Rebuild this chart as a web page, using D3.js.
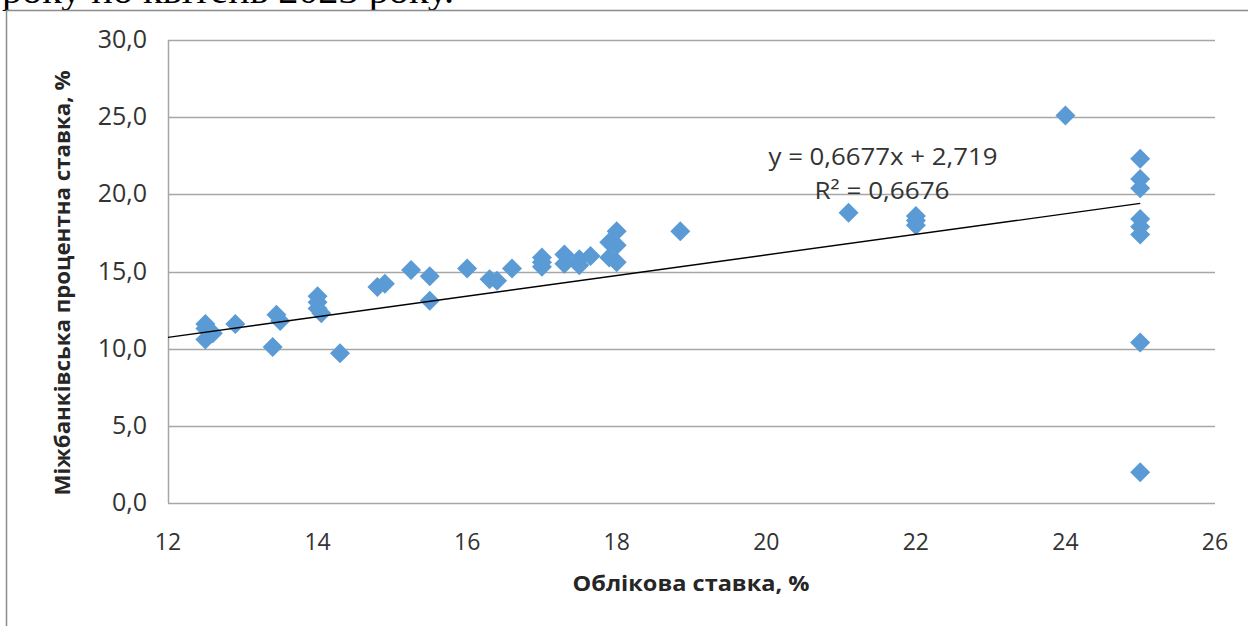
<!DOCTYPE html>
<html>
<head>
<meta charset="utf-8">
<script src="https://cdn.jsdelivr.net/npm/d3@7"></script>
<style>
  body { margin: 0; background: #fff; }
  svg { display: block; }
</style>
</head>
<body>
<div id="chart-area"></div>
<script>
//============================DATA============================
// discount rate (x) and interbank rate (y), %
var discountRate = [12.5, 12.5, 12.55, 12.6, 12.5, 12.9, 13.45, 13.5, 13.4,
    14.0, 14.0, 14.0, 14.05, 14.3, 14.8, 14.9, 15.25, 15.5, 15.5,
    16.0, 16.3, 16.4, 16.6, 17.0, 17.0, 17.0, 17.3, 17.3, 17.5, 17.5, 17.65,
    17.9, 18.0, 18.0, 17.9, 18.0, 18.85, 21.1, 22.0, 22.0, 22.0, 24.0,
    25.0, 25.0, 25.0, 25.0, 25.0, 25.0, 25.0, 25.0];
var interbankRate = [11.6, 10.6, 11.2, 11.0, 11.3, 11.6, 12.2, 11.8, 10.1,
    13.4, 13.0, 12.6, 12.3, 9.7, 14.0, 14.2, 15.1, 14.7, 13.1,
    15.2, 14.5, 14.4, 15.2, 15.9, 15.6, 15.3, 16.1, 15.5, 15.4, 15.8, 16.0,
    16.9, 17.6, 16.7, 15.9, 15.6, 17.6, 18.8, 18.6, 18.3, 18.0, 25.1,
    22.3, 21.0, 20.4, 18.4, 17.9, 17.4, 10.4, 2.0];

var xTicks = [12, 14, 16, 18, 20, 22, 24, 26];
var yTicks = [0, 5, 10, 15, 20, 25, 30];

// linear trend shown on the chart
var trendSlope = 0.6677;
var trendIntercept = 2.719;
var trendRange = [12, 25];
var trendLabel = "y = 0,6677x + 2,719";
var r2Label = "R\u00B2 = 0,6676";

var xTitle = "Облікова ставка, %";
var yTitle = "Міжбанківська процентна ставка, %";
var headText = "року по квітень 2023 року.";

//============================LAYOUT============================
var W = 1248, H = 626;
var plot = { left: 168, right: 1215, top: 40, bottom: 503 };
var font = "'Open Sans', 'Liberation Sans', sans-serif";

var svg = d3.select("#chart-area")
    .append("svg")
    .attr("width", W)
    .attr("height", H);

svg.append("rect").attr("width", W).attr("height", H).attr("fill", "#fff");

// piece of the document text above the chart, cut by the page edge
svg.append("text")
    .attr("x", 2)
    .attr("y", 3)
    .attr("font-family", "'Liberation Serif', 'Times New Roman', serif")
    .attr("font-size", "38px")
    .attr("textLength", 452)
    .attr("lengthAdjust", "spacingAndGlyphs")
    .text(headText);

// chart frame
svg.append("path")
    .attr("d", "M6.5," + H + "V10.5H" + W)
    .attr("fill", "none")
    .attr("stroke", "#8c8c8c")
    .attr("stroke-width", 1.5);

var x = d3.scaleLinear().domain([12, 26]).range([plot.left, plot.right]);
var y = d3.scaleLinear().domain([0, 30]).range([plot.bottom, plot.top]);

var fmt = function(v) { return d3.format(".1f")(v).replace(".", ","); };

// gridlines
svg.append("g")
    .selectAll("line")
    .data(yTicks.filter(function(d) { return d > 0; }))
    .enter().append("line")
    .attr("x1", plot.left).attr("x2", plot.right)
    .attr("y1", function(d) { return Math.round(y(d)) + 0.5; })
    .attr("y2", function(d) { return Math.round(y(d)) + 0.5; })
    .attr("stroke", "#a6a6a6")
    .attr("stroke-width", 1.5);

// axes lines
svg.append("line")
    .attr("x1", plot.left + 0.5).attr("x2", plot.left + 0.5)
    .attr("y1", plot.top).attr("y2", plot.bottom)
    .attr("stroke", "#a6a6a6").attr("stroke-width", 1.5);
svg.append("line")
    .attr("x1", plot.left).attr("x2", plot.right)
    .attr("y1", plot.bottom + 0.5).attr("y2", plot.bottom + 0.5)
    .attr("stroke", "#a6a6a6").attr("stroke-width", 1.5);

// y tick labels
svg.append("g")
    .selectAll("text")
    .data(yTicks)
    .enter().append("text")
    .attr("x", 147)
    .attr("y", function(d) { return y(d) + 8; })
    .attr("text-anchor", "end")
    .attr("font-family", font)
    .attr("font-size", "25px")
    .attr("fill", "#333")
    .text(function(d) { return fmt(d); });

// x tick labels
svg.append("g")
    .selectAll("text")
    .data(xTicks)
    .enter().append("text")
    .attr("x", function(d) { return x(d); })
    .attr("y", 550)
    .attr("text-anchor", "middle")
    .attr("font-family", font)
    .attr("font-size", "23px")
    .attr("fill", "#333")
    .text(function(d) { return d; });

// axis titles
svg.append("text")
    .attr("x", 691)
    .attr("y", 591)
    .attr("text-anchor", "middle")
    .attr("font-family", font)
    .attr("font-weight", "bold")
    .attr("font-size", "21px")
    .attr("fill", "#262626")
    .attr("textLength", 237)
    .attr("lengthAdjust", "spacingAndGlyphs")
    .text(xTitle);

svg.append("text")
    .attr("transform", "translate(70,283) rotate(-90)")
    .attr("text-anchor", "middle")
    .attr("font-family", font)
    .attr("font-weight", "bold")
    .attr("font-size", "21px")
    .attr("fill", "#262626")
    .attr("textLength", 425)
    .attr("lengthAdjust", "spacingAndGlyphs")
    .text(yTitle);

// points
var points = discountRate.map(function(d, i) { return { x: d, y: interbankRate[i] }; });
var diamond = d3.symbol().type(d3.symbolSquare).size(200);

svg.append("g")
    .selectAll("path")
    .data(points)
    .enter().append("path")
    .attr("d", diamond)
    .attr("transform", function(d) { return "translate(" + x(d.x) + "," + y(d.y) + ") rotate(45)"; })
    .attr("fill", "#5b9bd5");

// trendline
var line = d3.line()
    .x(function(d) { return x(d); })
    .y(function(d) { return y(trendSlope * d + trendIntercept); });

svg.append("path")
    .datum(trendRange)
    .attr("d", line)
    .attr("fill", "none")
    .attr("stroke", "#000")
    .attr("stroke-width", 1.3);

// trend equation
svg.append("text")
    .attr("x", 883)
    .attr("y", 165)
    .attr("text-anchor", "middle")
    .attr("font-family", font)
    .attr("font-size", "23px")
    .attr("fill", "#333")
    .attr("textLength", 229)
    .attr("lengthAdjust", "spacingAndGlyphs")
    .text(trendLabel);

svg.append("text")
    .attr("x", 882)
    .attr("y", 199)
    .attr("text-anchor", "middle")
    .attr("font-family", font)
    .attr("font-size", "23px")
    .attr("fill", "#333")
    .attr("textLength", 135)
    .attr("lengthAdjust", "spacingAndGlyphs")
    .text(r2Label);
</script>
</body>
</html>
